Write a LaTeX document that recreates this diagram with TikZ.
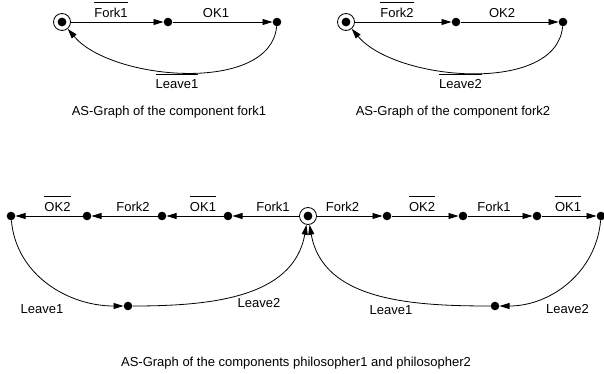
\documentclass[tikz,border=0pt]{standalone}
\usepackage{fontspec}
\setmainfont{Liberation Sans}
\usetikzlibrary{arrows.meta}
% complemented action: text with a bar above it
\newcommand\ovl[1]{\vbox{\hrule height 0.8pt\kern 5pt\hbox{#1}}}
\begin{document}
\begin{tikzpicture}[x=1pt,y=1pt,
  st/.style={circle,fill,minimum size=8.6pt,inner sep=0pt},
  init/.style={circle,draw,line width=0.8pt,minimum size=17pt,inner sep=0pt,
    path picture={\fill (path picture bounding box.center) circle (4.4pt);}},
  lbl/.style={inner sep=0pt,anchor=base,font=\fontsize{13}{15}\selectfont},
  tr/.style={-{Triangle[length=10pt,width=6pt]},line width=0.8pt},
]
\useasboundingbox (0,0) rectangle (604,-374);

% ---- component fork1 ----
\node[init] (a0) at (62,-22) {};
\node[st]   (a1) at (168,-22) {};
\node[st]   (a2) at (277,-22) {};
\draw[tr] (a0) -- (a1);
\draw[tr] (a1) -- (a2);
\draw[tr] (a2) to[out=-95,in=-50,looseness=0.83] (a0);
\node[lbl] (la1) at (111,-17.5) {\ovl{Fork1}};
\node[lbl] (la2) at (216,-17.5) {OK1};
\node[lbl] (la3) at (177,-88.5) {\ovl{Leave1}};
\node[lbl] (capa) at (169,-115.5) {AS-Graph of the component fork1};

% ---- component fork2 ----
\node[init] (b0) at (346,-22) {};
\node[st]   (b1) at (456,-22) {};
\node[st]   (b2) at (563,-22) {};
\draw[tr] (b0) -- (b1);
\draw[tr] (b1) -- (b2);
\draw[tr] (b2) to[out=-95,in=-50,looseness=0.83] (b0);
\node[lbl] (lb1) at (397,-17.5) {\ovl{Fork2}};
\node[lbl] (lb2) at (502,-17.5) {OK2};
\node[lbl] (lb3) at (460.5,-88.5) {\ovl{Leave2}};
\node[lbl] (capb) at (453,-115.5) {AS-Graph of the component fork2};

% ---- philosophers ----
\node[init] (c)  at (308,-216) {};
\node[st] (p1) at (228,-216) {};
\node[st] (p2) at (162,-216) {};
\node[st] (p3) at (87,-216) {};
\node[st] (p4) at (11,-216) {};
\node[st] (pb) at (128,-306) {};
\node[st] (q1) at (387,-216) {};
\node[st] (q2) at (463,-216) {};
\node[st] (q3) at (537,-216) {};
\node[st] (q4) at (601,-216) {};
\node[st] (qb) at (495,-306) {};

\draw[tr] (c) -- (p1);
\draw[tr] (p1) -- (p2);
\draw[tr] (p2) -- (p3);
\draw[tr] (p3) -- (p4);
\draw[tr] (p4) to[out=-85,in=180] (pb);
\draw[tr] (pb) to[out=0,in=-100] (c);

\draw[tr] (c) -- (q1);
\draw[tr] (q1) -- (q2);
\draw[tr] (q2) -- (q3);
\draw[tr] (q3) -- (q4);
\draw[tr] (q4) to[out=-95,in=0] (qb);
\draw[tr] (qb) to[out=180,in=-80] (c);

\node[lbl] (lp1) at (273,-211) {Fork1};
\node[lbl] (lp2) at (203,-211) {\ovl{OK1}};
\node[lbl] (lp3) at (133,-211) {Fork2};
\node[lbl] (lp4) at (57.5,-211) {\ovl{OK2}};
\node[lbl] (lp5) at (42,-313.5) {Leave1};
\node[lbl] (lp6) at (259,-307) {Leave2};

\node[lbl] (lq1) at (342.5,-211) {Fork2};
\node[lbl] (lq2) at (422,-211) {\ovl{OK2}};
\node[lbl] (lq3) at (494,-211) {Fork1};
\node[lbl] (lq4) at (568,-211) {\ovl{OK1}};
\node[lbl] (lq5) at (391,-314) {Leave1};
\node[lbl] (lq6) at (567.5,-313.5) {Leave2};

\node[lbl] (capc) at (296,-366) {AS-Graph of the components philosopher1 and philosopher2};
\end{tikzpicture}
\end{document}
